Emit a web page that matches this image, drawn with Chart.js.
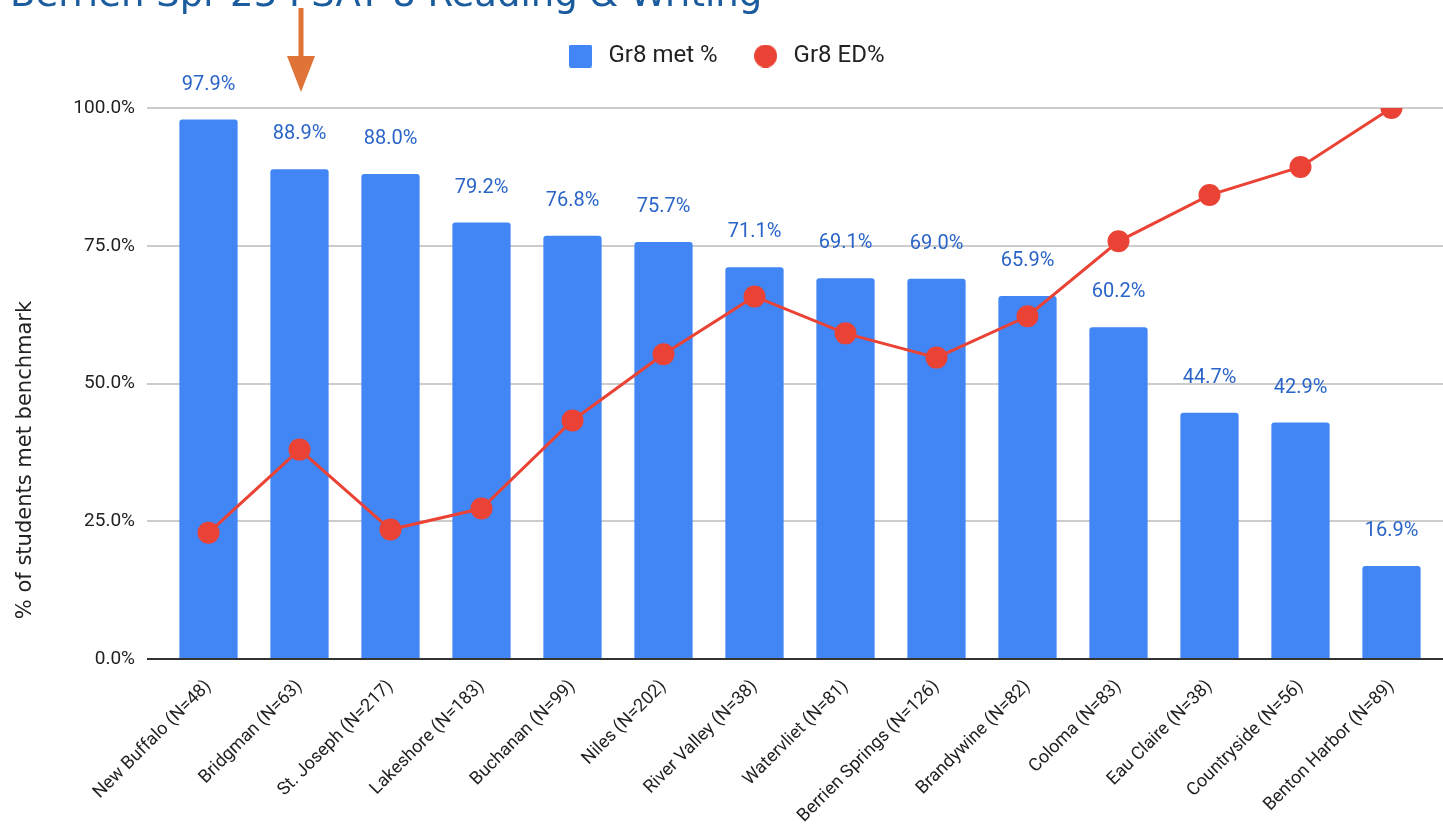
<!DOCTYPE html>
<html><head><meta charset="utf-8">
<script src="https://cdn.jsdelivr.net/npm/chart.js@4"></script>
<style>
html,body{margin:0;padding:0;background:#fff;overflow:hidden}
#wrap{position:relative;width:1443px;height:831px}
canvas{position:absolute;left:0;top:0}
svg{position:absolute;left:0;top:0;pointer-events:none}
</style></head><body>
<div id="wrap">
<canvas id="c" width="1443" height="831"></canvas>
<svg width="1443" height="831">
 <text x="10" y="6" font-family="DejaVu Sans" font-size="37" fill="#1b5c9e">Berrien Spr 23 PSAT 8 Reading &amp; Writing</text>
 <rect x="298.5" y="8" width="5" height="50" fill="#E07338"/>
 <polygon points="287,56 315,56 301,92" fill="#E07338"/>
 <text transform="translate(31,460) rotate(-90)" text-anchor="middle" font-family="DejaVu Sans" font-size="21" fill="#222">% of students met benchmark</text>
</svg>
</div>
<script>
const categories = ["New Buffalo (N=48)", "Bridgman (N=63)", "St. Joseph (N=217)", "Lakeshore (N=183)", "Buchanan (N=99)", "Niles (N=202)", "River Valley (N=38)", "Watervliet (N=81)", "Berrien Springs (N=126)", "Brandywine (N=82)", "Coloma (N=83)", "Eau Claire (N=38)", "Countryside (N=56)", "Benton Harbor (N=89)"];
const metValues = [97.9, 88.9, 88.0, 79.2, 76.8, 75.7, 71.1, 69.1, 69.0, 65.9, 60.2, 44.7, 42.9, 16.9];
const edValues = [22.9, 38.0, 23.5, 27.3, 43.3, 55.3, 65.8, 59.1, 54.7, 62.2, 75.8, 84.2, 89.3, 100.0];
const yTicks = [0, 25, 50, 75, 100];
const seriesNames = ["Gr8 met %", "Gr8 ED%"];

const BLUE = '#4285F4', RED = '#EA4335';

function makeIcon(kind, color) {
  const c = document.createElement('canvas');
  c.width = 23; c.height = 23;
  const g = c.getContext('2d');
  g.fillStyle = color;
  g.beginPath();
  if (kind === 'circle') g.arc(11.5, 11.5, 11.5, 0, Math.PI * 2);
  else g.roundRect(0, 0, 23, 23, 2);
  g.fill();
  return c;
}
const icons = [makeIcon('rect', BLUE), makeIcon('circle', RED)];

const gridPlugin = {
  id: 'customGrid',
  beforeDatasetsDraw(chart) {
    const y = chart.scales.y, ctx = chart.ctx;
    const x0 = chart.chartArea.left - 16;
    ctx.save();
    ctx.strokeStyle = '#cccccc';
    ctx.lineWidth = 2;
    y.ticks.forEach(t => {
      if (t.value === 0) return;
      const py = Math.round(y.getPixelForValue(t.value));
      ctx.beginPath(); ctx.moveTo(x0, py); ctx.lineTo(chart.width, py); ctx.stroke();
    });
    ctx.restore();
  },
  afterDatasetsDraw(chart) {
    const y = chart.scales.y, ctx = chart.ctx;
    const x0 = chart.chartArea.left - 16;
    const py = Math.round(y.getPixelForValue(0));
    ctx.save();
    ctx.strokeStyle = '#333333';
    ctx.lineWidth = 2;
    ctx.beginPath(); ctx.moveTo(x0, py); ctx.lineTo(chart.width, py); ctx.stroke();
    ctx.restore();
  }
};

const valueLabels = {
  id: 'valueLabels',
  afterDatasetsDraw(chart) {
    const meta = chart.getDatasetMeta(0);
    const ctx = chart.ctx;
    ctx.save();
    ctx.font = '20px Roboto';
    ctx.fillStyle = '#2a64c8';
    ctx.textAlign = 'center';
    ctx.textBaseline = 'middle';
    meta.data.forEach((bar, i) => {
      ctx.fillText(metValues[i].toFixed(1) + '%', bar.x, bar.y - 35);
    });
    ctx.restore();
  }
};

const legendTweak = {
  id: 'legendTweak',
  beforeInit(chart) {
    const lg = chart.legend;
    const origFit = lg.fit;
    lg.fit = function () { origFit.call(this); this.height = 96; };
    const origDraw = lg.draw;
    lg.draw = function () { const c = this.ctx; c.save(); c.translate(6, 0); origDraw.call(this); c.restore(); };
  }
};

new Chart(document.getElementById('c'), {
  data: {
    labels: categories,
    datasets: [
      {
        type: 'bar', label: seriesNames[0], data: metValues, order: 1,
        backgroundColor: BLUE, borderRadius: { topLeft: 3, topRight: 3 }, borderSkipped: 'start',
        barPercentage: 0.64, categoryPercentage: 1
      },
      {
        type: 'line', label: seriesNames[1], data: edValues, order: 0,
        borderColor: RED, backgroundColor: RED, borderWidth: 3,
        pointRadius: 11, pointHoverRadius: 11, pointBackgroundColor: RED, pointBorderWidth: 0,
        tension: 0
      }
    ]
  },
  options: {
    responsive: false, animation: false, devicePixelRatio: 1,
    layout: { autoPadding: false, padding: { top: 12, right: 6, left: 0, bottom: 0 } },
    plugins: {
      tooltip: { enabled: false },
      legend: {
        position: 'top', align: 'center',
        labels: {
          usePointStyle: true, pointStyleWidth: 32, padding: 32,
          font: { family: 'Roboto', size: 24 }, color: '#222',
          generateLabels(chart) {
            const items = Chart.defaults.plugins.legend.labels.generateLabels(chart);
            items.forEach(it => { it.pointStyle = icons[it.datasetIndex]; });
            return items;
          },
          sort: (a, b) => a.datasetIndex - b.datasetIndex
        }
      }
    },
    scales: {
      x: {
        grid: { display: false }, border: { display: false },
        ticks: { autoSkip: false, maxRotation: 45, minRotation: 45, padding: 9, color: '#222', font: { family: 'Roboto', size: 18 } },
        afterFit(s) { s.height = 172; s.paddingRight = 0; s.paddingLeft = 0; }
      },
      y: {
        min: 0, max: 100,
        grid: { display: false, drawTicks: false }, border: { display: false },
        afterBuildTicks(s) { s.ticks = yTicks.map(v => ({ value: v })); },
        ticks: { padding: 28, color: '#222', font: { family: 'Roboto', size: 19 }, callback: v => v.toFixed(1) + '%' },
        afterFit(s) { s.width = 163; s.paddingTop = 0; s.paddingBottom = 0; }
      }
    }
  },
  plugins: [gridPlugin, valueLabels, legendTweak]
});
</script>
</body></html>
